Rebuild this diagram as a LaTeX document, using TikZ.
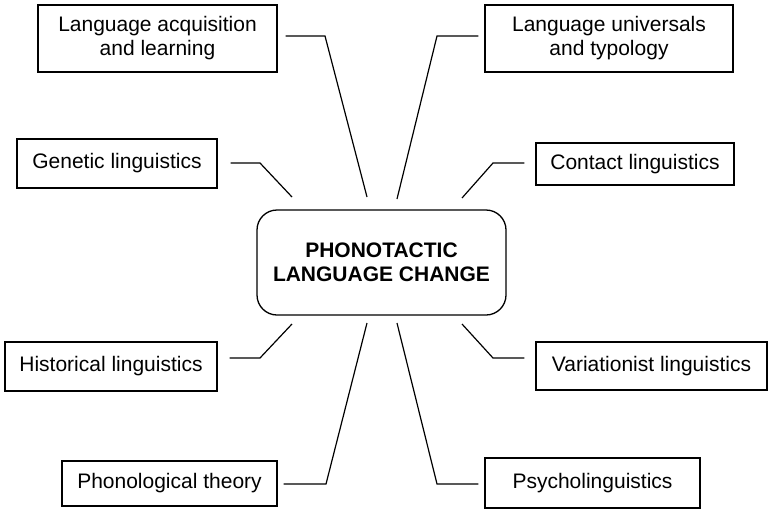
\documentclass[tikz,border=0pt]{standalone}
\usepackage{fontspec}
\setmainfont{Liberation Sans}
\usepackage{tikz}

\begin{document}
\begin{tikzpicture}[x=1pt, y=-1pt, font=\fontsize{21}{24}\selectfont]
        % Setup the styles for the boxes and lines
        \tikzset{field style/.style={draw,
                                     rectangle,
                                     align=center,
                                     inner sep=0pt,
                                     line width=1.3pt},
                 core style/.style={draw,
                                    rectangle,
                                    rounded corners=20pt,
                                    align=center,
                                    inner sep=0pt,
                                    line width=1.3pt,
                                    font=\fontsize{21}{24}\selectfont\bfseries},
                 link/.style={line width=1.2pt}}
        \useasboundingbox (0,0) rectangle (768,509);

        % Draw the boxes
        \node[core style, minimum width=249pt, minimum height=105pt] at (381.5,262.5) (change) {PHONOTACTIC\\LANGUAGE CHANGE};
        \node[field style, minimum width=239pt, minimum height=67pt] at (157.5,38.5) (acquisition) {Language acquisition\\and learning};
        \node[field style, minimum width=248pt, minimum height=67pt] at (609,38.5) (universals) {Language universals\\and typology};
        \node[field style, minimum width=200pt, minimum height=49pt] at (117,163.5) (genetic) {Genetic linguistics};
        \node[field style, minimum width=198pt, minimum height=42pt] at (635,164) (contact) {Contact linguistics};
        \node[field style, minimum width=212pt, minimum height=49pt] at (111,366.5) (historical) {Historical linguistics};
        \node[field style, minimum width=231pt, minimum height=48pt] at (651.5,366) (variationist) {Variationist linguistics};
        \node[field style, minimum width=215pt, minimum height=45pt] at (169.5,483.5) (phonological) {Phonological theory};
        \node[field style, minimum width=215pt, minimum height=50pt] at (592.5,483) (psycho) {Psycholinguistics};

        % Bends and loose ends of the lines
        \coordinate (acquisitionbend) at (325,36);
        \coordinate (acquisitionend) at (367,197);
        \coordinate (universalsbend) at (437,36);
        \coordinate (universalsend) at (397,199);
        \coordinate (geneticbend) at (260,163);
        \coordinate (geneticend) at (292,197);
        \coordinate (contactbend) at (493,163);
        \coordinate (contactend) at (462,198);
        \coordinate (historicalbend) at (260,358);
        \coordinate (historicalend) at (292,324);
        \coordinate (variationistbend) at (493,358);
        \coordinate (variationistend) at (462,324);
        \coordinate (phonologicalbend) at (326,484);
        \coordinate (phonologicalend) at (367,323);
        \coordinate (psychobend) at (437,484);
        \coordinate (psychoend) at (397,323);

        % Connect the boxes with lines
        \draw[link, shorten <=8pt] (acquisition.east |- acquisitionbend) -- (acquisitionbend) -- (acquisitionend);
        \draw[link, shorten <=6pt] (universals.west |- universalsbend) -- (universalsbend) -- (universalsend);
        \draw[link, shorten <=13pt] (genetic.east |- geneticbend) -- (geneticbend) -- (geneticend);
        \draw[link, shorten <=11pt] (contact.west |- contactbend) -- (contactbend) -- (contactend);
        \draw[link, shorten <=12pt] (historical.east |- historicalbend) -- (historicalbend) -- (historicalend);
        \draw[link, shorten <=11pt] (variationist.west |- variationistbend) -- (variationistbend) -- (variationistend);
        \draw[link, shorten <=6pt] (phonological.east |- phonologicalbend) -- (phonologicalbend) -- (phonologicalend);
        \draw[link, shorten <=6pt] (psycho.west |- psychobend) -- (psychobend) -- (psychoend);
\end{tikzpicture}
\end{document}
